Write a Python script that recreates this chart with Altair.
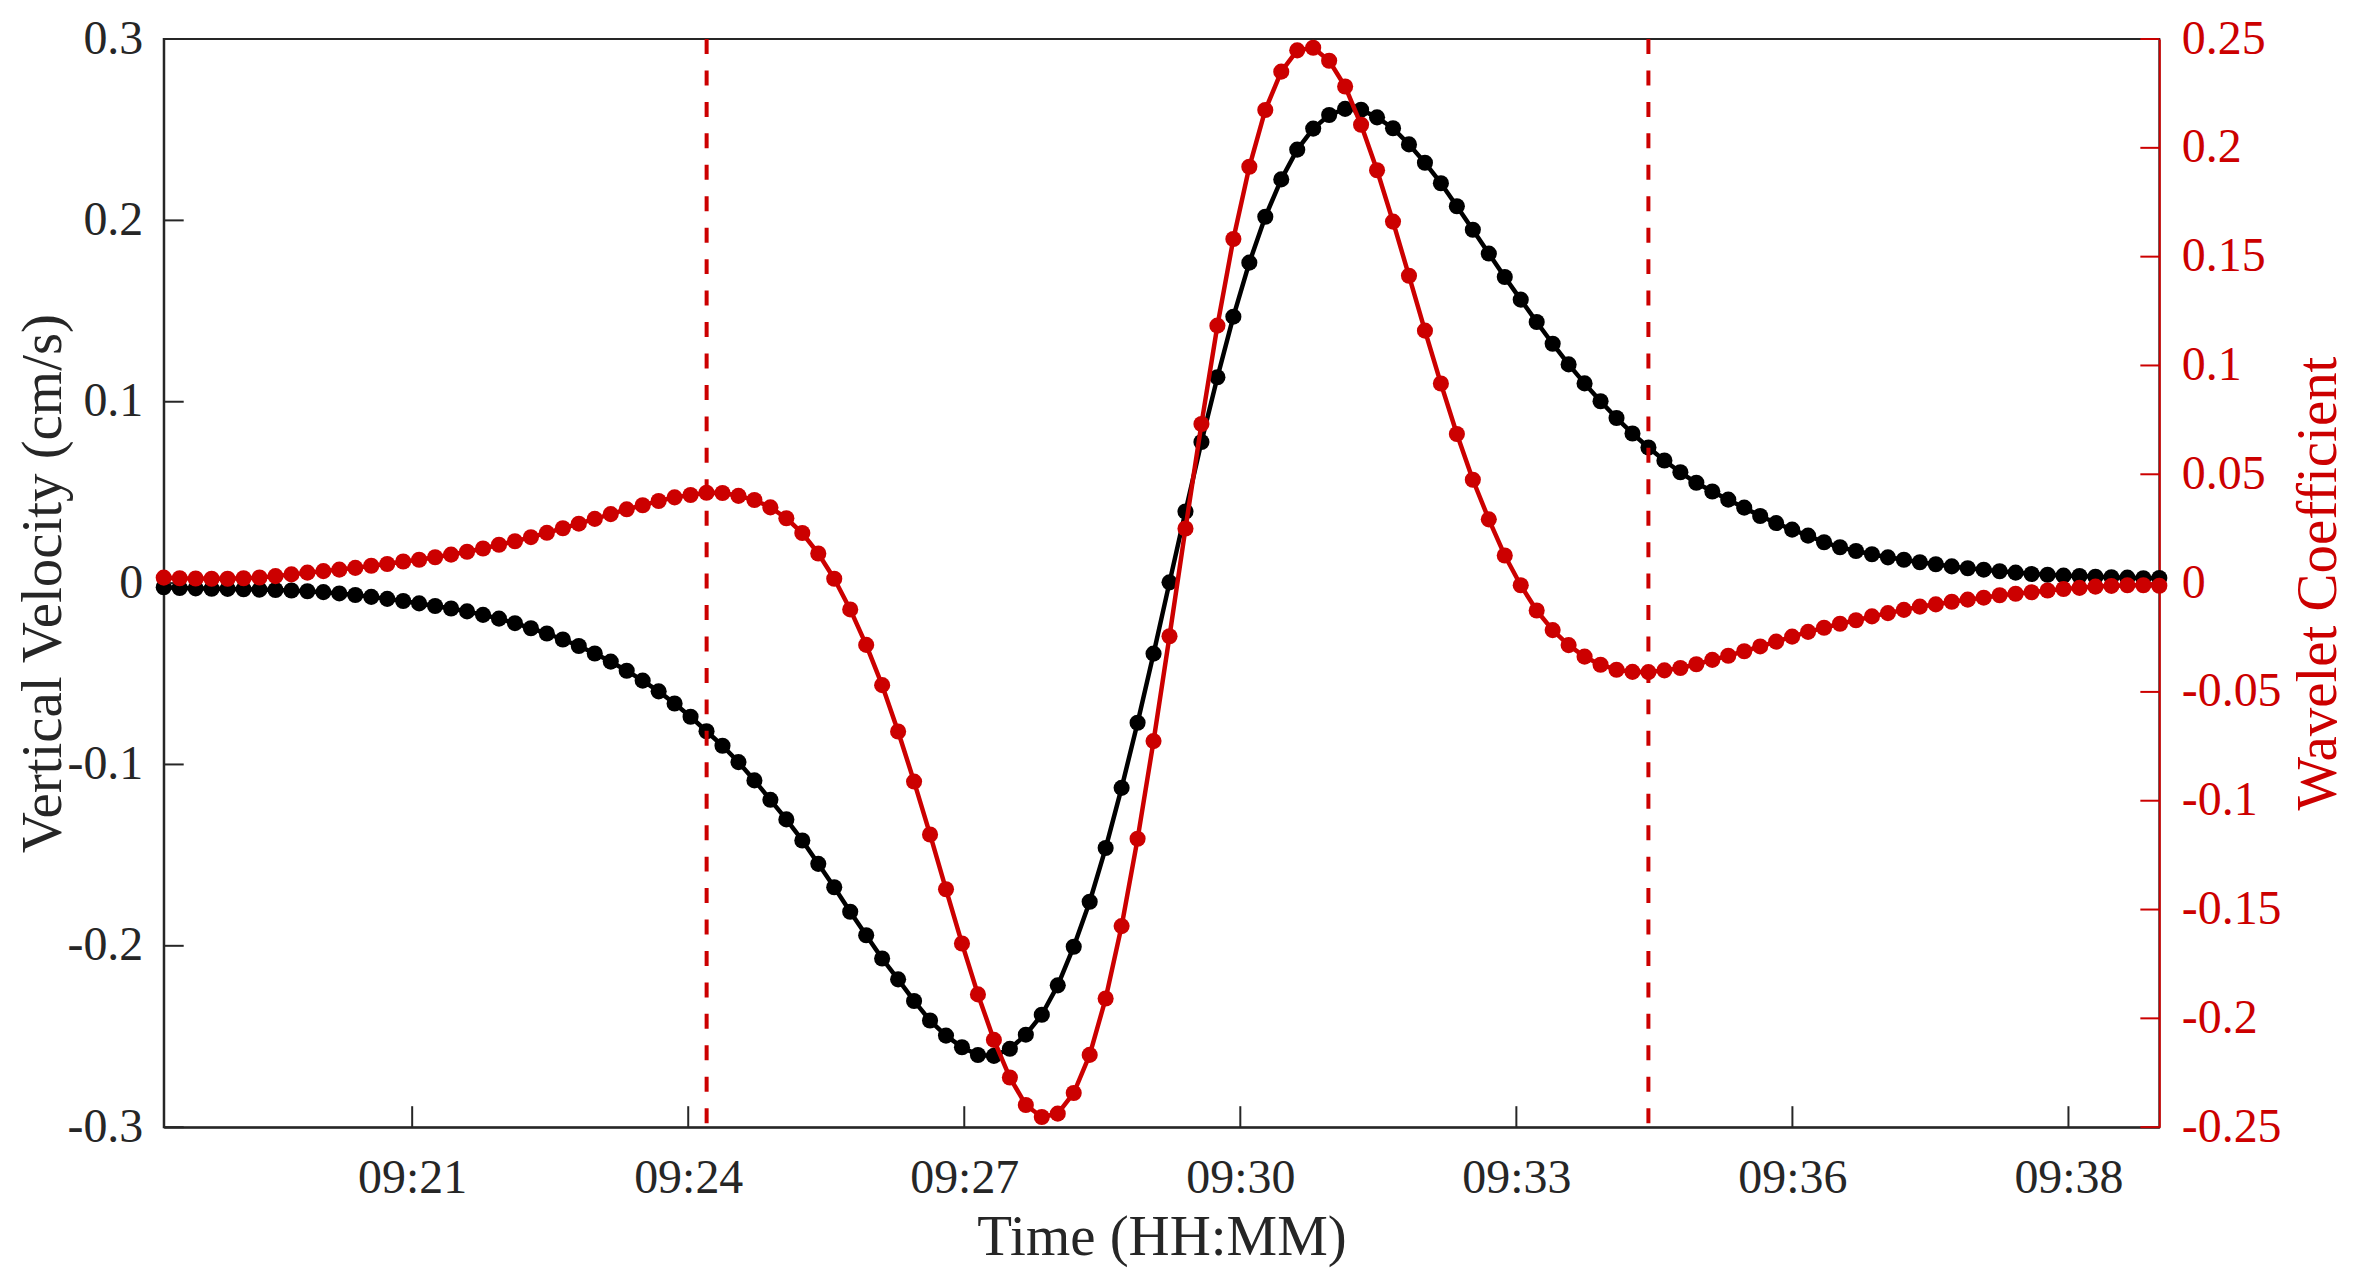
import altair as alt
import pandas as pd

# ---- data ----
T0_MIN = 18.30          # first sample, minutes after 09:00
STEP_MIN = 0.1735       # sampling step, minutes

VV = [-0.0023, -0.0027, -0.0029, -0.0031, -0.0032, -0.0034, -0.0036, -0.0038, -0.0041, -0.0045,
      -0.0050, -0.0057, -0.0066, -0.0076, -0.0087, -0.0099, -0.0112, -0.0126, -0.0140, -0.0156,
      -0.0175, -0.0196, -0.0221, -0.0249, -0.0278, -0.0311, -0.0347, -0.0388, -0.0433, -0.0483,
      -0.0538, -0.0597, -0.0664, -0.0737, -0.0817, -0.0897, -0.0987, -0.1088, -0.1195, -0.1303,
      -0.1419, -0.1548, -0.1677, -0.1812, -0.1942, -0.2070, -0.2185, -0.2304, -0.2412, -0.2495,
      -0.2559, -0.2602, -0.2607, -0.2568, -0.2490, -0.2380, -0.2218, -0.2005, -0.1757, -0.1461,
      -0.1129, -0.0770, -0.0389, 0.0004, 0.0395, 0.0778, 0.1135, 0.1469, 0.1767, 0.2020,
      0.2226, 0.2390, 0.2506, 0.2581, 0.2615, 0.2610, 0.2568, 0.2508, 0.2419, 0.2318,
      0.2205, 0.2078, 0.1948, 0.1817, 0.1688, 0.1563, 0.1440, 0.1320, 0.1206, 0.1101,
      0.1003, 0.0910, 0.0825, 0.0748, 0.0676, 0.0611, 0.0553, 0.0505, 0.0460, 0.0416,
      0.0370, 0.0331, 0.0295, 0.0262, 0.0225, 0.0198, 0.0177, 0.0159, 0.0142, 0.0129,
      0.0115, 0.0104, 0.0092, 0.0082, 0.0074, 0.0065, 0.0058, 0.0050, 0.0046, 0.0041,
      0.0039, 0.0035, 0.0032, 0.0030, 0.0027, 0.0028]

WC = [0.0025, 0.0022, 0.0021, 0.0020, 0.0020, 0.0022, 0.0026, 0.0032, 0.0040, 0.0048,
      0.0055, 0.0062, 0.0070, 0.0080, 0.0088, 0.0099, 0.0107, 0.0119, 0.0131, 0.0144,
      0.0159, 0.0176, 0.0192, 0.0211, 0.0231, 0.0252, 0.0273, 0.0295, 0.0317, 0.0339,
      0.0358, 0.0377, 0.0394, 0.0405, 0.0415, 0.0414, 0.0401, 0.0382, 0.0348, 0.0298,
      0.0230, 0.0136, 0.0020, -0.0121, -0.0284, -0.0469, -0.0682, -0.0912, -0.1155, -0.1407,
      -0.1656, -0.1890, -0.2099, -0.2272, -0.2398, -0.2453, -0.2438, -0.2343, -0.2168, -0.1909,
      -0.1576, -0.1175, -0.0726, -0.0244, 0.0251, 0.0731, 0.1183, 0.1581, 0.1913, 0.2174,
      0.2350, 0.2448, 0.2460, 0.2400, 0.2282, 0.2106, 0.1897, 0.1661, 0.1412, 0.1160,
      0.0917, 0.0685, 0.0475, 0.0293, 0.0127, -0.0010, -0.0126, -0.0216, -0.0285, -0.0338,
      -0.0375, -0.0398, -0.0408, -0.0409, -0.0401, -0.0390, -0.0373, -0.0353, -0.0334, -0.0313,
      -0.0291, -0.0269, -0.0246, -0.0224, -0.0205, -0.0187, -0.0171, -0.0153, -0.0138, -0.0123,
      -0.0108, -0.0098, -0.0086, -0.0076, -0.0067, -0.0056, -0.0049, -0.0042, -0.0034, -0.0027,
      -0.0022, -0.0016, -0.0013, -0.0010, -0.0010, -0.0012]

X_TICKS = [21, 24, 27, 30, 33, 36, 39]
X_LABELS = ["09:21", "09:24", "09:27", "09:30", "09:33", "09:36", "09:38"]
VV_TICKS = [0.3, 0.2, 0.1, 0, -0.1, -0.2, -0.3]
WC_TICKS = [0.25, 0.2, 0.15, 0.1, 0.05, 0, -0.05, -0.1, -0.15, -0.2, -0.25]
DASH_MIN = [24.20, 34.435]

TITLE_X = "Time (HH:MM)"
TITLE_L = "Vertical Velocity (cm/s)"
TITLE_R = "Wavelet Coefficient"

# ---- styling ----
W, H = 1999, 1090
FONT = "Liberation Serif"
AX = "#262626"
RED = "#CC0000"
BLK = "#000000"

times = [T0_MIN + i * STEP_MIN for i in range(len(VV))]
df = pd.DataFrame({"t": times, "VV": VV, "WC": WC})

x_enc = alt.X(
    "t:Q",
    scale=alt.Scale(domain=[times[0], times[-1]], nice=False, zero=False),
    axis=alt.Axis(
        values=X_TICKS,
        labelExpr=f"{X_LABELS}[indexof({X_TICKS}, datum.value)]",
        ticks=False, tickSize=0, grid=False,
        domainColor=AX, domainWidth=2,
        labelFont=FONT, labelFontSize=48, labelColor=AX, labelPadding=27,
        labelFlush=False, labelOverlap=False, labelBound=False,
        title=TITLE_X, titleFont=FONT, titleFontSize=57, titleFontWeight="normal",
        titleColor=AX, titleY=128, titleBaseline="alphabetic",
    ),
)

y_left = alt.Y(
    "VV:Q",
    scale=alt.Scale(domain=[-0.3, 0.3], nice=False, zero=False),
    axis=alt.Axis(
        orient="left", values=VV_TICKS, labelExpr="toString(datum.value)",
        ticks=False, tickSize=0, grid=False,
        domainColor=AX, domainWidth=2,
        labelFont=FONT, labelFontSize=48, labelColor=AX, labelPadding=21,
        labelFlush=False, labelOverlap=False, labelBound=False,
        title=TITLE_L, titleFont=FONT, titleFontSize=57, titleFontWeight="normal",
        titleColor=AX, titleAngle=270, titleX=-103, titleY=H / 2,
        titleBaseline="alphabetic", titleAlign="center",
    ),
)

y_right = alt.Y(
    "WC:Q",
    scale=alt.Scale(domain=[-0.25, 0.25], nice=False, zero=False),
    axis=alt.Axis(
        orient="right", values=WC_TICKS, labelExpr="toString(datum.value)",
        ticks=False, tickSize=0, grid=False,
        domainColor=RED, domainWidth=2,
        labelFont=FONT, labelFontSize=48, labelColor=RED, labelPadding=22,
        labelFlush=False, labelOverlap=False, labelBound=False,
        title=TITLE_R, titleFont=FONT, titleFontSize=57, titleFontWeight="normal",
        titleColor=RED, titleAngle=270, titleX=176, titleY=H / 2,
        titleBaseline="alphabetic", titleAlign="center",
    ),
)

base = alt.Chart(df)

black_line = base.mark_line(color=BLK, strokeWidth=4.5, strokeJoin="round").encode(x=x_enc, y=y_left)
black_pts = base.mark_point(filled=True, size=260, color=BLK, opacity=1, strokeWidth=0).encode(x=x_enc, y=y_left)
left_ticks = alt.Chart(pd.DataFrame({"VV": VV_TICKS})).mark_rule(color=AX, strokeWidth=2).encode(
    y=y_left, x=alt.value(0), x2=alt.value(20))
x_ticks = alt.Chart(pd.DataFrame({"t": X_TICKS})).mark_rule(color=AX, strokeWidth=2).encode(
    x=x_enc, y=alt.value(H), y2=alt.value(H - 21))

red_line = base.mark_line(color=RED, strokeWidth=4.5, strokeJoin="round").encode(x=x_enc, y=y_right)
red_pts = base.mark_point(filled=True, size=260, color=RED, opacity=1, strokeWidth=0).encode(x=x_enc, y=y_right)
right_ticks = alt.Chart(pd.DataFrame({"WC": WC_TICKS})).mark_rule(color=RED, strokeWidth=2).encode(
    y=y_right, x=alt.value(W), x2=alt.value(W - 19))
dashes = alt.Chart(pd.DataFrame({"t": DASH_MIN})).mark_rule(
    color=RED, strokeWidth=4, strokeDash=[15, 16.5]).encode(
    x=x_enc, y=alt.value(0), y2=alt.value(H))

left = alt.layer(black_line, black_pts, left_ticks, x_ticks)
right = alt.layer(red_line, red_pts, right_ticks, dashes)

chart = (
    alt.layer(left, right)
    .resolve_scale(y="independent")
    .properties(
        width=W, height=H,
        padding={"left": 156, "top": 30, "right": 188, "bottom": 142},
        autosize=alt.AutoSizeParams(type="none"),
        background="white",
    )
    .configure_view(stroke=AX, strokeWidth=2)
)

chart.save("out.html", embed_options={"renderer": "svg", "actions": False})
